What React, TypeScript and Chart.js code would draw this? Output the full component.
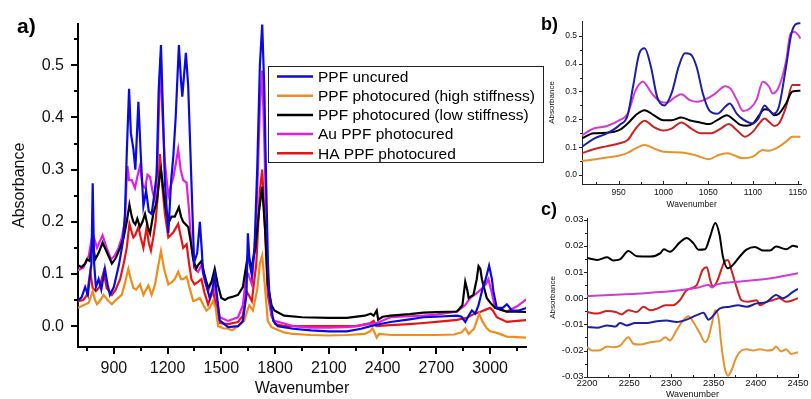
import React, { useEffect, useRef } from "react";
import { Chart, registerables } from "chart.js";
Chart.register(...registerables);

type P = [number, number];

// ---------- Panel a (full spectrum) ----------
const aUncured: P[] = [
  [700,0.05],[720,0.055],[740,0.075],[755,0.06],[765,0.09],[775,0.12],[782,0.274],[790,0.12],[800,0.075],[815,0.09],[830,0.07],[850,0.11],[865,0.08],[878,0.06],[900,0.075],[928,0.117],[950,0.16],[962,0.215],[972,0.33],[985,0.455],[995,0.37],[1009,0.34],[1020,0.3],[1037,0.43],[1050,0.33],[1065,0.23],[1080,0.26],[1095,0.22],[1111,0.215],[1125,0.25],[1139,0.29],[1150,0.45],[1163,0.539],[1175,0.4],[1185,0.276],[1204,0.178],[1220,0.28],[1232,0.326],[1245,0.4],[1263,0.539],[1275,0.47],[1282,0.44],[1302,0.524],[1315,0.46],[1333,0.276],[1348,0.122],[1365,0.14],[1380,0.2],[1390,0.15],[1398,0.104],[1415,0.08],[1435,0.054],[1450,0.07],[1463,0.098],[1475,0.06],[1491,0.011],[1537,-0.002],[1593,0.0],[1620,0.01],[1640,0.06],[1648,0.178],[1658,0.12],[1670,0.098],[1685,0.15],[1700,0.3],[1715,0.5],[1728,0.578],[1740,0.45],[1750,0.276],[1760,0.12],[1768,0.06],[1790,0.01],[1815,0.0],[1900,-0.005],[2000,-0.008],[2100,-0.01],[2200,-0.01],[2280,-0.005],[2333,0.0],[2400,0.005],[2444,0.008],[2550,0.013],[2628,0.017],[2700,0.018],[2815,0.02],[2840,0.018],[2861,0.008],[2880,0.02],[2898,0.03],[2917,0.024],[2935,0.04],[2954,0.067],[2975,0.09],[2994,0.116],[3010,0.09],[3018,0.067],[3037,0.035],[3070,0.035],[3093,0.042],[3110,0.035],[3120,0.03],[3160,0.03],[3203,0.035]
];
const aHigh: P[] = [
  [700,0.035],[730,0.04],[760,0.045],[782,0.067],[795,0.05],[806,0.042],[825,0.05],[843,0.06],[865,0.05],[889,0.042],[910,0.05],[944,0.06],[960,0.08],[981,0.11],[995,0.09],[1009,0.073],[1025,0.07],[1046,0.08],[1065,0.06],[1080,0.07],[1093,0.078],[1111,0.06],[1130,0.08],[1145,0.11],[1163,0.144],[1180,0.11],[1204,0.08],[1225,0.085],[1240,0.09],[1259,0.104],[1275,0.09],[1287,0.09],[1306,0.095],[1325,0.07],[1343,0.048],[1360,0.05],[1380,0.054],[1400,0.04],[1417,0.03],[1435,0.035],[1454,0.048],[1468,0.035],[1482,0.0],[1510,-0.004],[1537,-0.005],[1560,-0.008],[1593,0.0],[1628,0.01],[1645,0.03],[1656,0.04],[1676,0.03],[1700,0.07],[1715,0.12],[1728,0.135],[1742,0.08],[1759,0.01],[1780,-0.002],[1800,-0.005],[1850,-0.012],[1900,-0.015],[2000,-0.017],[2100,-0.018],[2200,-0.017],[2300,-0.015],[2330,-0.01],[2343,-0.004],[2355,-0.012],[2367,-0.022],[2380,-0.015],[2450,-0.017],[2550,-0.017],[2700,-0.017],[2800,-0.016],[2840,-0.012],[2861,-0.004],[2880,-0.015],[2910,-0.005],[2939,0.024],[2955,0.01],[2981,-0.004],[3000,-0.01],[3037,-0.013],[3093,-0.02],[3150,-0.021],[3203,-0.022]
];
const aLow: P[] = [
  [700,0.117],[720,0.113],[740,0.12],[750,0.128],[765,0.125],[782,0.16],[796,0.128],[815,0.14],[837,0.16],[850,0.15],[870,0.135],[889,0.12],[910,0.13],[935,0.15],[955,0.17],[972,0.2],[987,0.233],[1000,0.21],[1009,0.2],[1020,0.195],[1031,0.206],[1046,0.19],[1060,0.2],[1074,0.215],[1090,0.19],[1102,0.178],[1120,0.215],[1140,0.24],[1157,0.29],[1163,0.3],[1180,0.25],[1194,0.215],[1208,0.2],[1222,0.21],[1240,0.21],[1263,0.228],[1275,0.21],[1287,0.2],[1315,0.19],[1330,0.16],[1343,0.128],[1360,0.11],[1370,0.117],[1389,0.125],[1405,0.1],[1426,0.073],[1445,0.085],[1463,0.11],[1480,0.08],[1500,0.054],[1520,0.05],[1537,0.054],[1560,0.056],[1593,0.06],[1620,0.075],[1639,0.117],[1650,0.14],[1667,0.11],[1690,0.15],[1710,0.22],[1728,0.267],[1745,0.18],[1759,0.08],[1780,0.04],[1796,0.03],[1850,0.02],[1950,0.017],[2100,0.016],[2200,0.016],[2300,0.02],[2333,0.024],[2350,0.02],[2367,0.03],[2375,0.0125],[2400,0.018],[2444,0.02],[2550,0.023],[2628,0.026],[2700,0.027],[2815,0.028],[2845,0.04],[2861,0.085],[2872,0.07],[2880,0.054],[2907,0.06],[2925,0.09],[2935,0.115],[2945,0.11],[2954,0.09],[2981,0.054],[3000,0.045],[3028,0.035],[3093,0.028],[3150,0.028],[3203,0.027]
];
const aAu: P[] = [
  [700,0.107],[730,0.112],[760,0.135],[782,0.178],[806,0.15],[837,0.174],[860,0.15],[884,0.128],[905,0.135],[926,0.15],[945,0.17],[962,0.2],[970,0.27],[976,0.307],[985,0.28],[1000,0.28],[1018,0.265],[1030,0.285],[1046,0.307],[1060,0.27],[1074,0.265],[1088,0.29],[1102,0.286],[1115,0.26],[1130,0.24],[1145,0.33],[1160,0.515],[1172,0.4],[1185,0.313],[1204,0.25],[1218,0.27],[1232,0.285],[1245,0.31],[1259,0.339],[1273,0.3],[1287,0.28],[1306,0.275],[1320,0.22],[1333,0.153],[1350,0.11],[1370,0.104],[1389,0.117],[1405,0.09],[1426,0.067],[1440,0.08],[1454,0.09],[1470,0.06],[1491,0.017],[1537,0.01],[1593,0.017],[1620,0.04],[1639,0.098],[1650,0.1],[1670,0.08],[1695,0.2],[1715,0.42],[1728,0.49],[1740,0.35],[1759,0.08],[1780,0.02],[1796,0.01],[1850,0.005],[1900,0.0],[2000,-0.003],[2100,-0.003],[2200,-0.002],[2259,0.0],[2320,0.004],[2367,0.006],[2444,0.017],[2550,0.019],[2628,0.02],[2700,0.022],[2815,0.028],[2860,0.04],[2889,0.054],[2920,0.062],[2954,0.072],[2975,0.08],[2990,0.09],[3005,0.07],[3028,0.035],[3070,0.03],[3093,0.028],[3150,0.038],[3212,0.054]
];
const aHA: P[] = [
  [700,0.048],[730,0.05],[750,0.06],[768,0.104],[782,0.073],[800,0.067],[820,0.075],[843,0.104],[860,0.073],[889,0.06],[910,0.07],[935,0.09],[955,0.12],[972,0.15],[987,0.196],[1000,0.18],[1009,0.17],[1020,0.175],[1037,0.19],[1050,0.17],[1065,0.15],[1083,0.19],[1095,0.16],[1107,0.145],[1120,0.17],[1133,0.2],[1145,0.25],[1157,0.33],[1170,0.27],[1185,0.215],[1204,0.17],[1232,0.18],[1259,0.196],[1275,0.17],[1287,0.15],[1306,0.157],[1320,0.12],[1333,0.09],[1350,0.08],[1370,0.085],[1389,0.09],[1405,0.065],[1426,0.042],[1440,0.055],[1454,0.067],[1470,0.04],[1491,0.006],[1537,0.004],[1593,0.008],[1620,0.02],[1639,0.067],[1652,0.06],[1670,0.048],[1695,0.12],[1715,0.26],[1728,0.3],[1742,0.2],[1759,0.06],[1780,0.02],[1800,0.004],[1850,0.0],[1950,0.0],[2100,0.0],[2250,0.0],[2333,0.006],[2350,0.01],[2365,0.0],[2444,0.002],[2550,0.004],[2628,0.006],[2700,0.008],[2815,0.012],[2870,0.016],[2907,0.023],[2950,0.028],[3000,0.035],[3015,0.03],[3037,0.017],[3093,0.008],[3150,0.01],[3212,0.012]
];
const aXTicks = [900, 1200, 1500, 1800, 2100, 2400, 2700, 3000];
const aXMinor = [750, 1050, 1350, 1650, 1950, 2250, 2550, 2850, 3150];
const aYTicks = [0, 0.1, 0.2, 0.3, 0.4, 0.5];
const aYMinor = [0.05, 0.15, 0.25, 0.35, 0.45, 0.55];

// ---------- Panel b (900-1150 zoom) ----------
const bUncured: P[] = [
  [909,0.102],[922,0.13],[937,0.15],[951,0.18],[960,0.215],[966,0.317],[973,0.437],[979,0.455],[986,0.389],[993,0.28],[1001,0.25],[1009,0.293],[1017,0.389],[1024,0.437],[1030,0.434],[1037,0.389],[1044,0.293],[1051,0.233],[1060,0.22],[1069,0.245],[1074,0.257],[1082,0.22],[1089,0.2],[1100,0.185],[1106,0.203],[1113,0.25],[1118,0.233],[1123,0.22],[1129,0.245],[1137,0.389],[1143,0.508],[1148,0.542],[1153,0.545]
];
const bHigh: P[] = [
  [909,0.051],[922,0.056],[937,0.063],[951,0.07],[960,0.08],[969,0.096],[979,0.108],[989,0.096],[1000,0.084],[1020,0.081],[1035,0.072],[1051,0.057],[1060,0.07],[1071,0.078],[1078,0.072],[1089,0.06],[1100,0.066],[1111,0.09],[1118,0.087],[1126,0.096],[1137,0.12],[1144,0.138],[1153,0.138]
];
const bLow: P[] = [
  [909,0.132],[922,0.15],[937,0.152],[951,0.162],[960,0.185],[969,0.215],[979,0.233],[989,0.215],[1000,0.197],[1009,0.197],[1020,0.207],[1029,0.197],[1042,0.188],[1051,0.183],[1060,0.197],[1071,0.215],[1078,0.2],[1086,0.18],[1093,0.177],[1100,0.185],[1107,0.215],[1113,0.236],[1118,0.233],[1124,0.215],[1129,0.22],[1137,0.257],[1144,0.3],[1153,0.303]
];
const bAu: P[] = [
  [909,0.143],[922,0.167],[937,0.176],[951,0.197],[960,0.22],[969,0.305],[977,0.335],[987,0.293],[997,0.263],[1004,0.26],[1013,0.28],[1020,0.29],[1029,0.27],[1038,0.263],[1049,0.275],[1058,0.293],[1069,0.319],[1075,0.31],[1082,0.27],[1089,0.23],[1097,0.24],[1104,0.27],[1111,0.335],[1118,0.317],[1122,0.293],[1129,0.317],[1137,0.41],[1142,0.508],[1146,0.514],[1150,0.505],[1153,0.49]
];
const bHA: P[] = [
  [909,0.078],[922,0.093],[937,0.104],[951,0.114],[960,0.126],[969,0.167],[979,0.195],[989,0.173],[1000,0.16],[1009,0.167],[1020,0.189],[1031,0.167],[1042,0.15],[1053,0.15],[1064,0.167],[1073,0.183],[1082,0.161],[1091,0.138],[1100,0.156],[1107,0.185],[1113,0.203],[1118,0.191],[1124,0.176],[1129,0.185],[1137,0.245],[1144,0.323],[1153,0.323]
];
const bXTicks = [950, 1000, 1050, 1100, 1150];
const bXMinor = [925, 975, 1025, 1075, 1125];
const bYTicks = [0, 0.1, 0.2, 0.3, 0.4, 0.5];
const bYMinor = [0.05, 0.15, 0.25, 0.35, 0.45];

// ---------- Panel c (2200-2450 zoom) ----------
const cUncured: P[] = [
  [2200,-0.011],[2212,-0.0113],[2224,-0.0104],[2234,-0.0108],[2239,-0.0095],[2247,-0.0104],[2257,-0.0095],[2271,-0.0095],[2283,-0.0088],[2294,-0.0085],[2306,-0.0091],[2318,-0.0082],[2330,-0.0065],[2338,-0.0056],[2344,-0.0082],[2350,-0.0065],[2357,-0.004],[2369,-0.0033],[2379,-0.0027],[2389,-0.0033],[2401,-0.002],[2413,-0.0014],[2424,0.0012],[2432,0.0],[2444,0.0024],[2450,0.0036]
];
const cHigh: P[] = [
  [2200,-0.0187],[2206,-0.02],[2214,-0.02],[2224,-0.0185],[2232,-0.0187],[2239,-0.0182],[2249,-0.0149],[2255,-0.0174],[2263,-0.0177],[2275,-0.0168],[2287,-0.0162],[2293,-0.0149],[2298,-0.0162],[2306,-0.0123],[2314,-0.0085],[2320,-0.0069],[2326,-0.0091],[2334,-0.0136],[2340,-0.0168],[2344,-0.0149],[2348,-0.0097],[2352,-0.0046],[2356,-0.0078],[2359,-0.0174],[2363,-0.0264],[2367,-0.0296],[2371,-0.0277],[2377,-0.0226],[2383,-0.02],[2389,-0.0195],[2397,-0.02],[2405,-0.0195],[2413,-0.02],[2420,-0.0197],[2424,-0.0185],[2430,-0.0203],[2436,-0.0195],[2442,-0.0213],[2450,-0.0206]
];
const cLow: P[] = [
  [2200,0.0153],[2212,0.0146],[2224,0.0156],[2231,0.0144],[2239,0.0148],[2249,0.018],[2259,0.016],[2275,0.0159],[2287,0.0172],[2291,0.0187],[2298,0.0177],[2310,0.0213],[2318,0.023],[2326,0.021],[2332,0.0185],[2340,0.0187],[2346,0.0236],[2352,0.0287],[2357,0.0242],[2361,0.0159],[2367,0.0114],[2373,0.0127],[2381,0.0159],[2389,0.0185],[2399,0.0195],[2409,0.0182],[2417,0.0182],[2424,0.0197],[2436,0.0187],[2444,0.02],[2450,0.0195]
];
const cAu: P[] = [
  [2200,0.0008],[2263,0.0018],[2310,0.003],[2332,0.0041],[2344,0.005],[2348,0.0041],[2352,0.005],[2379,0.0063],[2418,0.0076],[2450,0.0095]
];
const cHA: P[] = [
  [2200,-0.0053],[2212,-0.0059],[2224,-0.0049],[2234,-0.0053],[2241,-0.0062],[2249,-0.0046],[2259,-0.0053],[2267,-0.0033],[2275,-0.0046],[2283,-0.004],[2293,-0.0027],[2302,-0.0027],[2310,-0.0008],[2318,0.003],[2330,0.005],[2337,0.0108],[2342,0.0118],[2346,0.0069],[2349,0.0044],[2354,0.0063],[2359,0.0108],[2363,0.014],[2367,0.0146],[2371,0.0108],[2377,0.0044],[2383,-0.0008],[2391,-0.0014],[2401,-0.0008],[2405,-0.0027],[2413,-0.0014],[2420,-0.0008],[2428,0.0],[2436,-0.0014],[2444,-0.0008],[2450,0.0]
];
const cXTicks = [2200, 2250, 2300, 2350, 2400, 2450];
const cXMinor = [2225, 2275, 2325, 2375, 2425];
const cYTicks = [-0.03, -0.02, -0.01, 0, 0.01, 0.02, 0.03];
const cYMinor = [-0.025, -0.015, -0.005, 0.005, 0.015, 0.025];

const legendLabels = [
  "PPF uncured",
  "PPF photocured (high stiffness)",
  "PPF photocured (low stiffness)",
  "Au PPF photocured",
  "HA PPF photocured",
];
const colorsA = ["#0a0ae0", "#f08c1c", "#000000", "#e21ee2", "#e81414"];
const colorsB = ["#1e1eaa", "#e8922c", "#000000", "#d43ad4", "#cc2222"];

const FONT = "'Liberation Sans', Arial, sans-serif";

function ticksPlugin(cfg: any) {
  return {
    id: "customTicks",
    afterDraw(chart: any) {
      const ctx = chart.ctx;
      const xs = chart.scales.x, ys = chart.scales.y;
      const { left, bottom } = chart.chartArea;
      ctx.save();
      ctx.strokeStyle = cfg.color;
      ctx.lineWidth = cfg.width;
      const dx = (vals: number[], len: number) => vals.forEach((v) => {
        const px = Math.round(xs.getPixelForValue(v)) + (cfg.width % 2 ? 0.5 : 0);
        ctx.beginPath();
        ctx.moveTo(px, bottom);
        ctx.lineTo(px, cfg.xIn ? bottom - len : bottom + len);
        ctx.stroke();
      });
      const dy = (vals: number[], len: number) => vals.forEach((v) => {
        const py = Math.round(ys.getPixelForValue(v)) + (cfg.width % 2 ? 0.5 : 0);
        ctx.beginPath();
        ctx.moveTo(left, py);
        ctx.lineTo(left - len, py);
        ctx.stroke();
      });
      dx(cfg.xMajor, cfg.majorLen);
      dx(cfg.xMinor, cfg.minorLen);
      dy(cfg.yMajor, cfg.majorLen);
      dy(cfg.yMinor, cfg.minorLen);
      ctx.restore();
    },
  };
}

function textPlugin(items: { text: string; x: number; y: number; font: string }[]) {
  return {
    id: "panelText",
    afterDraw(chart: any) {
      const ctx = chart.ctx;
      ctx.save();
      ctx.fillStyle = "#000";
      ctx.textAlign = "left";
      ctx.textBaseline = "alphabetic";
      items.forEach((it) => {
        ctx.font = it.font;
        ctx.fillText(it.text, it.x, it.y);
      });
      ctx.restore();
    },
  };
}

const legendPlugin = {
  id: "boxLegend",
  afterDraw(chart: any) {
    const ctx = chart.ctx;
    ctx.save();
    ctx.strokeStyle = "#222";
    ctx.lineWidth = 1;
    ctx.fillStyle = "#fff";
    ctx.fillRect(268.5, 66.5, 275, 96);
    ctx.strokeRect(268.5, 66.5, 275, 96);
    ctx.font = `15.5px ${FONT}`;
    ctx.textBaseline = "middle";
    ctx.textAlign = "left";
    legendLabels.forEach((lab, i) => {
      const y = 76.5 + i * 19.2;
      ctx.strokeStyle = colorsA[i];
      ctx.lineWidth = 2.5;
      ctx.beginPath();
      ctx.moveTo(277, y);
      ctx.lineTo(313, y);
      ctx.stroke();
      ctx.fillStyle = "#000";
      ctx.fillText(lab, 318, y + 1);
    });
    ctx.restore();
  },
};

function mkDatasets(series: P[][], colors: string[], width: number, smooth: boolean) {
  return series.map((s, i) => ({
    label: legendLabels[i],
    data: s.map(([x, y]) => ({ x, y })),
    borderColor: colors[i],
    backgroundColor: colors[i],
    borderWidth: width,
    pointRadius: 0,
    fill: false,
    tension: smooth ? 0.4 : 0,
    cubicInterpolationMode: smooth ? "monotone" : "default",
  }));
}

function axis(o: any) {
  return {
    type: "linear",
    min: o.min,
    max: o.max,
    afterFit: (s: any) => {
      if (o.w !== undefined) s.width = o.w;
      if (o.h !== undefined) s.height = o.h;
    },
    afterBuildTicks: (s: any) => {
      s.ticks = o.ticks.map((v: number) => ({ value: v }));
    },
    grid: { display: false, drawTicks: false },
    border: { display: true, color: o.borderColor, width: o.borderWidth },
    ticks: {
      autoSkip: false,
      maxRotation: 0,
      padding: o.pad,
      color: "#111",
      font: { family: FONT, size: o.fontSize },
      callback: o.fmt,
    },
    title: {
      display: true,
      text: o.title,
      color: "#111",
      font: { family: FONT, size: o.titleSize },
      padding: o.titlePad,
    },
  };
}

function baseOptions(padding: any, x: any, y: any) {
  return {
    animation: false,
    responsive: false,
    devicePixelRatio: 1,
    events: [],
    layout: { padding },
    plugins: { legend: { display: false }, tooltip: { enabled: false } },
    scales: { x, y },
  };
}

export default function App() {
  const aRef = useRef<HTMLCanvasElement>(null);
  const bRef = useRef<HTMLCanvasElement>(null);
  const cRef = useRef<HTMLCanvasElement>(null);

  useEffect(() => {
    const charts: Chart[] = [];

    charts.push(new Chart(aRef.current as HTMLCanvasElement, {
      type: "line",
      data: { datasets: mkDatasets([aUncured, aHigh, aLow, aAu, aHA], colorsA, 2.2, false) as any },
      options: baseOptions(
        { left: 0, top: 13, right: 22, bottom: 0 },
        axis({ min: 700, max: 3200, h: 52, ticks: aXTicks, pad: 12, fontSize: 16, fmt: (v: number) => String(v), title: "Wavenumber", titleSize: 16, titlePad: { top: 0, bottom: 1 }, borderColor: "#000", borderWidth: 2 }),
        axis({ min: -0.04, max: 0.58, w: 78, ticks: aYTicks, pad: 14, fontSize: 16, fmt: (v: number) => v.toFixed(1), title: "Absorbance", titleSize: 16, titlePad: { top: 10, bottom: 0 }, borderColor: "#000", borderWidth: 2 })
      ) as any,
      plugins: [
        ticksPlugin({ color: "#000", width: 2, xIn: false, majorLen: 7, minorLen: 4, xMajor: aXTicks, xMinor: aXMinor, yMajor: aYTicks, yMinor: aYMinor }),
        textPlugin([{ text: "a)", x: 17, y: 33, font: `bold 21px ${FONT}` }]),
        legendPlugin,
      ],
    }));

    charts.push(new Chart(bRef.current as HTMLCanvasElement, {
      type: "line",
      data: { datasets: mkDatasets([bUncured, bHigh, bLow, bAu, bHA], colorsB, 2, true) as any },
      options: baseOptions(
        { left: 0, top: 21, right: 9, bottom: 0 },
        axis({ min: 909, max: 1154, h: 28, ticks: bXTicks, pad: 4, fontSize: 8.5, fmt: (v: number) => String(v), title: "Wavenumber", titleSize: 8.5, titlePad: { top: 0, bottom: 2 }, borderColor: "#222", borderWidth: 1 }),
        axis({ min: -0.032, max: 0.553, w: 42, ticks: bYTicks, pad: 5, fontSize: 8.5, fmt: (v: number) => v.toFixed(1), title: "Absorbance", titleSize: 8, titlePad: { top: 7, bottom: 0 }, borderColor: "#222", borderWidth: 1 })
      ) as any,
      plugins: [
        ticksPlugin({ color: "#222", width: 1, xIn: true, majorLen: 3, minorLen: 2, xMajor: bXTicks, xMinor: bXMinor, yMajor: bYTicks, yMinor: bYMinor }),
        textPlugin([{ text: "b)", x: 1, y: 30, font: `bold 18px ${FONT}` }]),
      ],
    }));

    charts.push(new Chart(cRef.current as HTMLCanvasElement, {
      type: "line",
      data: { datasets: mkDatasets([cUncured, cHigh, cLow, cAu, cHA], colorsB, 2, true) as any },
      options: baseOptions(
        { left: 0, top: 18, right: 13, bottom: 0 },
        axis({ min: 2200, max: 2450, h: 22, ticks: cXTicks, pad: 1, fontSize: 9.5, fmt: (v: number) => String(v), title: "Wavenumber", titleSize: 9, titlePad: { top: 0, bottom: -1 }, borderColor: "#222", borderWidth: 1 }),
        axis({ min: -0.0301, max: 0.0306, w: 47, ticks: cYTicks, pad: 3.5, fontSize: 9.5, fmt: (v: number) => v.toFixed(2), title: "Absorbance", titleSize: 8, titlePad: { top: 8, bottom: 0 }, borderColor: "#222", borderWidth: 1 })
      ) as any,
      plugins: [
        ticksPlugin({ color: "#222", width: 1, xIn: true, majorLen: 3, minorLen: 2, xMajor: cXTicks, xMinor: cXMinor, yMajor: cYTicks, yMinor: cYMinor }),
        textPlugin([{ text: "c)", x: 1, y: 15, font: `bold 18px ${FONT}` }]),
      ],
    }));

    return () => charts.forEach((c) => c.destroy());
  }, []);

  return (
    <div style={{ position: "absolute", left: 0, top: 0, width: 811, height: 399, background: "#fff", overflow: "hidden" }}>
      <canvas ref={aRef} width={548} height={399} style={{ position: "absolute", left: 0, top: 0, width: 548, height: 399 }} />
      <canvas ref={bRef} width={271} height={212} style={{ position: "absolute", left: 540, top: 0, width: 271, height: 212 }} />
      <canvas ref={cRef} width={271} height={199} style={{ position: "absolute", left: 540, top: 200, width: 271, height: 199 }} />
    </div>
  );
}
